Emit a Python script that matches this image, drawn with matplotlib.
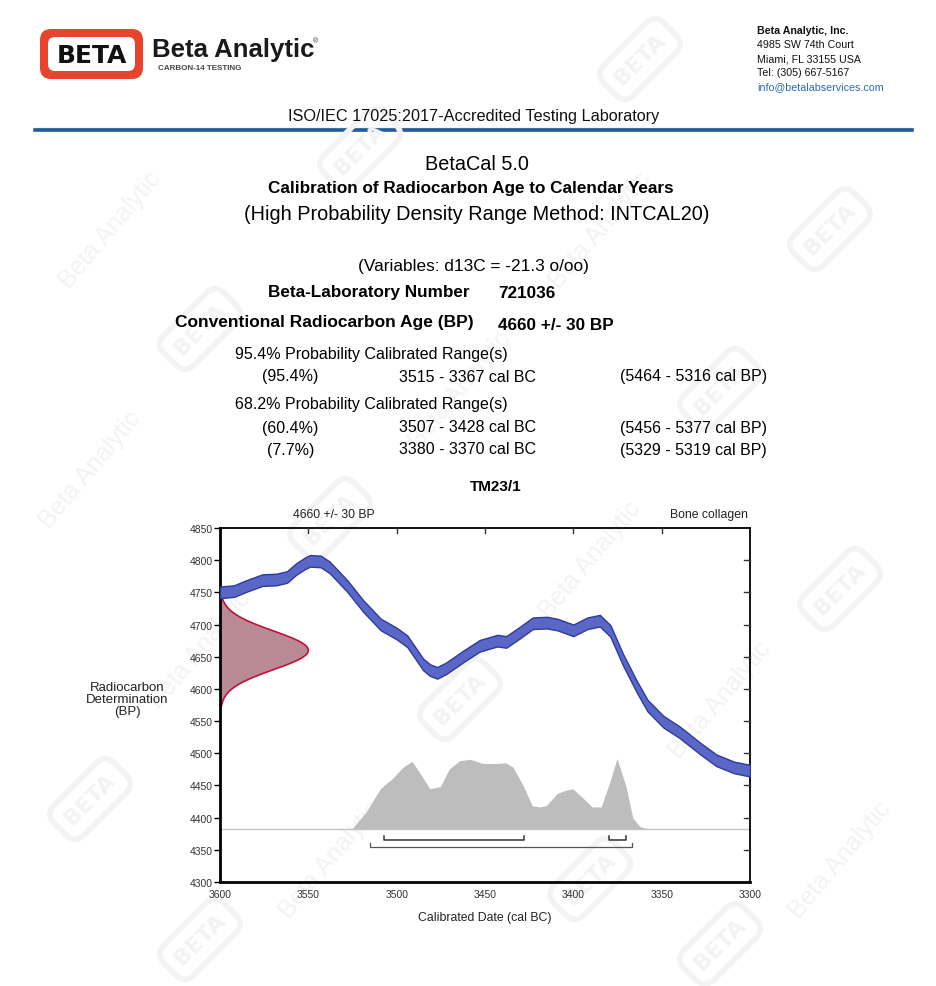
import numpy as np
import matplotlib.pyplot as plt
from matplotlib.patches import FancyBboxPatch

plt.rcParams['font.family'] = ['Liberation Sans', 'DejaVu Sans']

# ---- report text ----
lab_number = "721036"
conv_age, conv_err = 4660, 30
d13c = -21.3
sample_id = "TM23/1"
material = "Bone collagen"

range95_pct = ["(95.4%)"]
range95_bc = ["3515 - 3367 cal BC"]
range95_bp = ["(5464 - 5316 cal BP)"]
range68_pct = ["(60.4%)", "(7.7%)"]
range68_bc = ["3507 - 3428 cal BC", "3380 - 3370 cal BC"]
range68_bp = ["(5456 - 5377 cal BP)", "(5329 - 5319 cal BP)"]

# HPD ranges drawn as brackets (cal BC: start, end)
hpd95 = [(3515, 3367)]
hpd68 = [(3507, 3428), (3380, 3370)]

# ---- INTCAL20 calibration curve (centre, cal BC vs BP) ----
cal_years = [3600, 3592, 3585, 3576, 3568, 3562, 3557, 3552, 3549, 3543,
             3538, 3528, 3519, 3509, 3500, 3494, 3489, 3485, 3481, 3477,
             3472, 3462, 3453, 3443, 3438, 3430, 3423, 3415, 3409, 3400,
             3392, 3385, 3379, 3372, 3364, 3358, 3349, 3340, 3328, 3319,
             3309, 3300]
cal_bp = [4750, 4752, 4760, 4769, 4770, 4774, 4786, 4795, 4799, 4798,
          4789, 4760, 4729, 4700, 4686, 4674, 4654, 4638, 4629, 4625,
          4632, 4651, 4667, 4675, 4673, 4688, 4702, 4703, 4700, 4691,
          4702, 4706, 4690, 4646, 4603, 4574, 4549, 4533, 4507, 4489,
          4478, 4473]
cal_err = 9

# ---- calibrated probability (relative) ----
prob_years = [3525, 3517, 3509, 3502, 3496, 3491, 3487, 3481, 3475, 3470,
              3464, 3458, 3451, 3443, 3438, 3434, 3428, 3423, 3419, 3415,
              3409, 3404, 3400, 3394, 3389, 3384, 3379, 3375, 3370, 3366,
              3362, 3358]
prob_rel = [0.00, 0.24, 0.57, 0.72, 0.88, 0.96, 0.81, 0.57, 0.60, 0.85,
            0.97, 0.99, 0.93, 0.93, 0.94, 0.88, 0.61, 0.33, 0.31, 0.33,
            0.50, 0.55, 0.57, 0.43, 0.31, 0.31, 0.67, 1.00, 0.61, 0.15,
            0.03, 0.00]

W, H = 937, 987
fig = plt.figure(figsize=(W / 100, H / 100), dpi=100)
fig.patch.set_facecolor('white')

# background layer in pixel coordinates (logo, rule, watermarks)
bg = fig.add_axes([0, 0, 1, 1], zorder=0)
bg.set_xlim(0, W)
bg.set_ylim(H, 0)
bg.axis('off')

# faint diagonal watermarks
wm = '#f3f3f3'
marks = [(110, 230, 't'), (360, 150, 'l'), (640, 60, 'l'), (600, 230, 't'),
         (830, 230, 'l'), (200, 330, 'l'), (460, 390, 't'), (720, 390, 'l'),
         (90, 470, 't'), (330, 520, 'l'), (590, 560, 't'), (840, 590, 'l'),
         (200, 650, 't'), (460, 700, 'l'), (720, 700, 't'), (90, 800, 'l'),
         (330, 860, 't'), (590, 880, 'l'), (840, 860, 't'), (200, 940, 'l'),
         (720, 945, 'l')]
for x, y, kind in marks:
    if kind == 'l':
        bg.text(x, y, "BETA", rotation=45, fontsize=16, fontweight='bold',
                color=wm, ha='center', va='center', family='DejaVu Sans',
                bbox=dict(boxstyle='round,pad=0.5,rounding_size=0.6',
                          fc='none', ec=wm, lw=4))
    else:
        bg.text(x, y, "Beta Analytic", rotation=50, fontsize=18,
                color=wm, ha='center', va='center')

# logo
bg.add_patch(FancyBboxPatch((40, 30), 103, 50,
                            boxstyle='round,pad=0,rounding_size=11',
                            fc='#e8432d', ec='none'))
bg.add_patch(FancyBboxPatch((48, 38), 87, 34,
                            boxstyle='round,pad=0,rounding_size=7',
                            fc='white', ec='none'))
bg.text(91.5, 56, "BETA", fontsize=18, fontweight='bold', color='#111111',
        ha='center', va='center', family='DejaVu Sans')
bg.text(152, 50, "Beta Analytic", fontsize=18.5, fontweight='bold',
        color='#1a1a1a', ha='left', va='center')
bg.text(313, 42, "®", fontsize=5, color='#333333', ha='left', va='center')
bg.text(158, 69, "CARBON-14 TESTING", fontsize=5.8, fontweight='bold',
        color='#444444', ha='left', va='center')

# address block
addr = ["Beta Analytic, Inc.", "4985 SW 74th Court", "Miami, FL 33155 USA",
        "Tel: (305) 667-5167", "info@betalabservices.com"]
for k, line in enumerate(addr):
    bg.text(757, 31 + k * 14, line, fontsize=7.7,
            fontweight='bold' if k == 0 else 'normal',
            color='#2a6cb0' if k == 4 else '#111111', ha='left', va='center')

bg.text(474, 116, "ISO/IEC 17025:2017-Accredited Testing Laboratory",
        fontsize=11.7, ha='center', va='center', color='#111111')
bg.plot([35, 912], [129, 129], color='#c8c8c8', lw=1)
bg.plot([35, 912], [131, 131], color='#1f5c99', lw=2.6)

# headings
bg.text(477, 165, "BetaCal 5.0", fontsize=14.3, ha='center', va='center')
bg.text(471, 189, "Calibration of Radiocarbon Age to Calendar Years",
        fontsize=12.3, fontweight='bold', ha='center', va='center')
bg.text(477, 214, "(High Probability Density Range Method: INTCAL20)",
        fontsize=14.3, ha='center', va='center')
bg.text(473, 266, f"(Variables: d13C = {d13c} o/oo)", fontsize=12.4,
        ha='center', va='center')
bg.text(268, 293, "Beta-Laboratory Number", fontsize=12.3, fontweight='bold',
        ha='left', va='center')
bg.text(498, 293, lab_number, fontsize=12.3, fontweight='bold', ha='left',
        va='center')
bg.text(175, 323, "Conventional Radiocarbon Age (BP)", fontsize=12.5,
        fontweight='bold', ha='left', va='center')
bg.text(498, 325, f"{conv_age} +/- {conv_err} BP", fontsize=12.3,
        fontweight='bold', ha='left', va='center')

# range tables
fs_r = 11.5
bg.text(235, 355, "95.4% Probability Calibrated Range(s)", fontsize=fs_r,
        ha='left', va='center')
for k in range(len(range95_bc)):
    y = 377 + k * 23
    bg.text(262, y, range95_pct[k], fontsize=fs_r, ha='left', va='center')
    bg.text(399, y, range95_bc[k], fontsize=fs_r, ha='left', va='center')
    bg.text(620, y, range95_bp[k], fontsize=fs_r, ha='left', va='center')
bg.text(235, 405, "68.2% Probability Calibrated Range(s)", fontsize=fs_r,
        ha='left', va='center')
for k in range(len(range68_bc)):
    y = 428 + k * 22
    bg.text(262 + (5 if len(range68_pct[k]) < 7 else 0), y, range68_pct[k],
            fontsize=fs_r, ha='left', va='center')
    bg.text(399, y, range68_bc[k], fontsize=fs_r, ha='left', va='center')
    bg.text(620, y, range68_bp[k], fontsize=fs_r, ha='left', va='center')

bg.text(496, 487, sample_id, fontsize=11, fontweight='bold', ha='center',
        va='center')

# ---- calibration plot ----
ax = fig.add_axes([220 / W, 1 - 883 / H, 530 / W, 354 / H], zorder=1)
ax.set_facecolor('none')
ax.set_xlim(3600, 3300)
ax.set_ylim(4300, 4850)

yrs = np.array(cal_years)
bp = np.array(cal_bp)
ax.fill_between(yrs, bp - cal_err, bp + cal_err, facecolor='#5a67c6',
                edgecolor='#2c3b9c', lw=1.0, zorder=3)

# radiocarbon measurement (normal, from stated age and error)
base = 4382
ages = np.linspace(conv_age - 3 * conv_err, conv_age + 3 * conv_err, 121)
dens = np.exp(-0.5 * ((ages - conv_age) / conv_err) ** 2)
ax.fill_betweenx(ages, 3600, 3600 - 50 * dens, facecolor='#b98a93',
                 edgecolor='none', zorder=2)
ax.plot(3600 - 50 * dens, ages, color='#c3103c', lw=1.2, zorder=2.5)

# calibrated probability
ax.axhline(base, color='#c4c4c4', lw=1.0, zorder=1)
ax.fill_between(prob_years, base, base + 109 * np.array(prob_rel),
                facecolor='#bdbdbd', edgecolor='none', zorder=2)

# HPD brackets
for (a, b) in hpd68:
    ax.plot([a, a, b, b], [4371, 4366, 4366, 4371], color='#333333',
            lw=1.1, zorder=3)
for (a, b) in hpd95:
    ax.plot([a, a, b, b], [4360, 4355, 4355, 4360], color='#555555',
            lw=0.9, zorder=3)

ax.set_xticks(np.arange(3600, 3299, -50))
ax.set_yticks(np.arange(4300, 4851, 50))
ax.tick_params(axis='y', direction='out', length=4, width=1,
               labelsize=7.5, labelcolor='#333333', pad=1)
ax.tick_params(axis='x', length=0, labelsize=7.5, labelcolor='#333333',
               pad=5)

for side in ('left', 'bottom'):
    ax.spines[side].set_linewidth(2.0)
for side in ('top', 'right'):
    ax.spines[side].set_linewidth(1.3)

# inner ticks along top and right frame
for yv in np.arange(4350, 4850, 50):
    ax.plot([3300, 3303.5], [yv, yv], color='#333333', lw=1, zorder=4,
            clip_on=False)
for xv in np.arange(3550, 3300, -50):
    ax.plot([xv, xv], [4850, 4843], color='#333333', lw=1, zorder=4,
            clip_on=False)

ax.set_xlabel("Calibrated Date (cal BC)", fontsize=8.8, color='#222222',
              labelpad=9)
bg.text(127, 700, "Radiocarbon\nDetermination\n(BP)", fontsize=9.5,
        ha='center', va='center', color='#222222', linespacing=1.05)
bg.text(334, 515, f"{conv_age} +/- {conv_err} BP", fontsize=8.8,
        ha='center', va='center', color='#222222')
bg.text(748, 515, material, fontsize=8.8, ha='right', va='center',
        color='#222222')

fig.savefig("out.png", dpi=100)
plt.close(fig)
